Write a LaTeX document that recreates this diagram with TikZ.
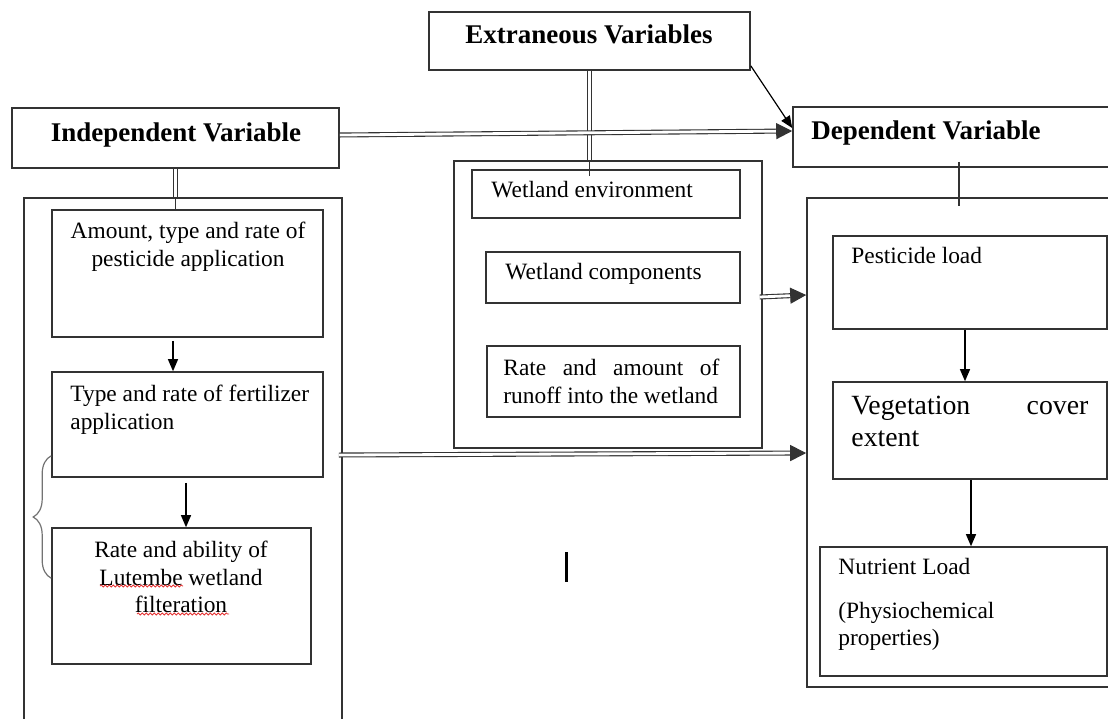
\documentclass[tikz,border=0pt]{standalone}
\usepackage{fontspec}
\setmainfont{Liberation Serif}
\usetikzlibrary{arrows.meta, positioning, calc, fit, decorations.pathreplacing, decorations.pathmorphing}
\definecolor{linegray}{rgb}{0.2,0.2,0.2}
\definecolor{bracegray}{rgb}{0.45,0.45,0.45}
\definecolor{spellred}{rgb}{0.9,0.2,0.2}

\tikzset{
  box/.style={draw=linegray, line width=0.8pt, inner sep=0pt},
  txt/.style={inner sep=0pt, font=\fontsize{11.7}{13.6}\selectfont},
  head/.style={inner sep=0pt, font=\fontsize{13.5}{16}\selectfont\bfseries},
  line/.style={draw=linegray, line width=0.6pt},
  arr/.style={draw=black, line width=0.6pt, -{Triangle[length=6pt,width=5pt]}},
  dbl/.style={draw=linegray, double=white, line width=0.55pt, double distance=1.4pt},
  dblarr/.style={dbl, -{Triangle[length=8pt,width=8pt]}},
  spell/.style={draw=spellred, line width=0.4pt, decorate,
    decoration={snake, segment length=2pt, amplitude=0.5pt}}
}

\begin{document}
\begin{tikzpicture}[x=0.5pt, y=-0.5pt]
\useasboundingbox (0,0) rectangle (1108,718);
\clip (0,0) rectangle (1108,718);
% headings
\node[box, fit={(429,12) (750,70)}] (ext) {};
\node[head, anchor=base] (extt) at (589,43) {Extraneous Variables};
\node[box, fit={(12,108) (339,168)}] (indep) {};
\node[head, anchor=base] (indt) at (176,141) {Independent Variable};
\node[box, fit={(793,107) (1130,167)}] (dep) {};
\node[head, anchor=base west] (dept) at (811,139) {Dependent Variable};

% left column
\node[box, fit={(24,198) (342,740)}] (lbox) {};
\node[box, fit={(52,210) (323,337)}] (amt) {};
\node[txt, anchor=north, align=center] (amtt) at (188,222)
  {Amount, type and rate of\\pesticide application};
\node[box, fit={(52,372) (323,477)}] (typ) {};
\node[txt, anchor=north west, align=left] (typt) at (70,385)
  {Type and rate of fertilizer\\application};
\node[box, fit={(52,528) (311,664)}] (rab) {};
\node[txt, anchor=north, align=center] (rabt) at (181,541)
  {Rate and ability of\\Lutembe wetland\\filteration};
\draw[spell] (100,586) -- (183,586);
\draw[spell] (137,614) -- (229,614);
\draw[bracegray, line width=0.6pt, decorate, decoration={brace, amplitude=9pt}]
  ($(rab.north west)+(0,51)$) -- ($(typ.south west)+(0,-22)$);

% middle column
\node[box, fit={(454,161) (762,448)}] (mbox) {};
\node[box, fit={(472,170) (740,218)}] (wenv) {};
\node[txt, anchor=base west] (wenvt) at (491,197) {Wetland environment};
\node[box, fit={(486,252) (740,303)}] (wcomp) {};
\node[txt, anchor=base west] (wcompt) at (505,279) {Wetland components};
\node[box, fit={(487,346) (740,417)}] (run) {};
\node[txt, anchor=north west, align=left] (runt) at (503,359)
  {\makebox[108pt][s]{Rate and amount of}\\runoff into the wetland};
\fill (565,552) rectangle (568,582);

% right column
\node[box, fit={(807,198) (1130,687)}] (rbox) {};
\node[box, fit={(833,236) (1107,329)}] (pest) {};
\node[txt, anchor=base west] (pestt) at (851,263) {Pesticide load};
\node[box, fit={(833,382) (1107,479)}] (veg) {};
\node[inner sep=0pt, font=\fontsize{13.9}{16}\selectfont, anchor=north west, align=left]
  (vegt) at (851,396) {\makebox[118.5pt][s]{Vegetation cover}\\extent};
\node[box, fit={(820,547) (1107,676)}] (nut) {};
\node[txt, anchor=north west, align=left] (nutt) at (838,558)
  {Nutrient Load\\[8.4pt](Physiochemical\\properties)};

% connectors
\draw[dbl] (ext.south) -- (ext.south |- mbox.north);
\draw[line] (ext.south |- mbox.north) -- ++(0,16);
\draw[arr] ([yshift=2.5pt]ext.south east) -- ([yshift=4.5pt]dep.west);
\draw[dblarr] ([yshift=1.5pt]indep.east) -- ([yshift=3pt]dep.west);
\draw[dbl] (indep.south) -- (indep.south |- lbox.north);
\draw[line] (indep.south |- lbox.north) -- (indep.south |- amt.north);
\draw[arr] ($(amt.south)+(-14.5,3)$) -- ($(amt.south |- typ.north)+(-14.5,0)$);
\draw[arr] ($(typ.south)+(-1.5,5)$) -- ($(typ.south |- rab.north)+(-1.5,0)$);
\draw[dblarr] ($(typ.east -| lbox.east)+(-4,30.5)$) -- ($(typ.east -| rbox.west)+(0,28.5)$);
\draw[dblarr] ($(mbox.east)+(-3,-7.5)$) -- ($(mbox.east -| rbox.west)+(0,-9.5)$);
\draw[line] ($(dep.south)+(-2.5,-6)$) -- ($(dep.south |- rbox.north)+(-2.5,9)$);
\draw[arr] ($(pest.south)+(-5,0)$) -- ($(pest.south |- veg.north)+(-5,0)$);
\draw[arr] ($(veg.south)+(1,0)$) -- ($(veg.south |- nut.north)+(1,0)$);
\end{tikzpicture}
\end{document}
